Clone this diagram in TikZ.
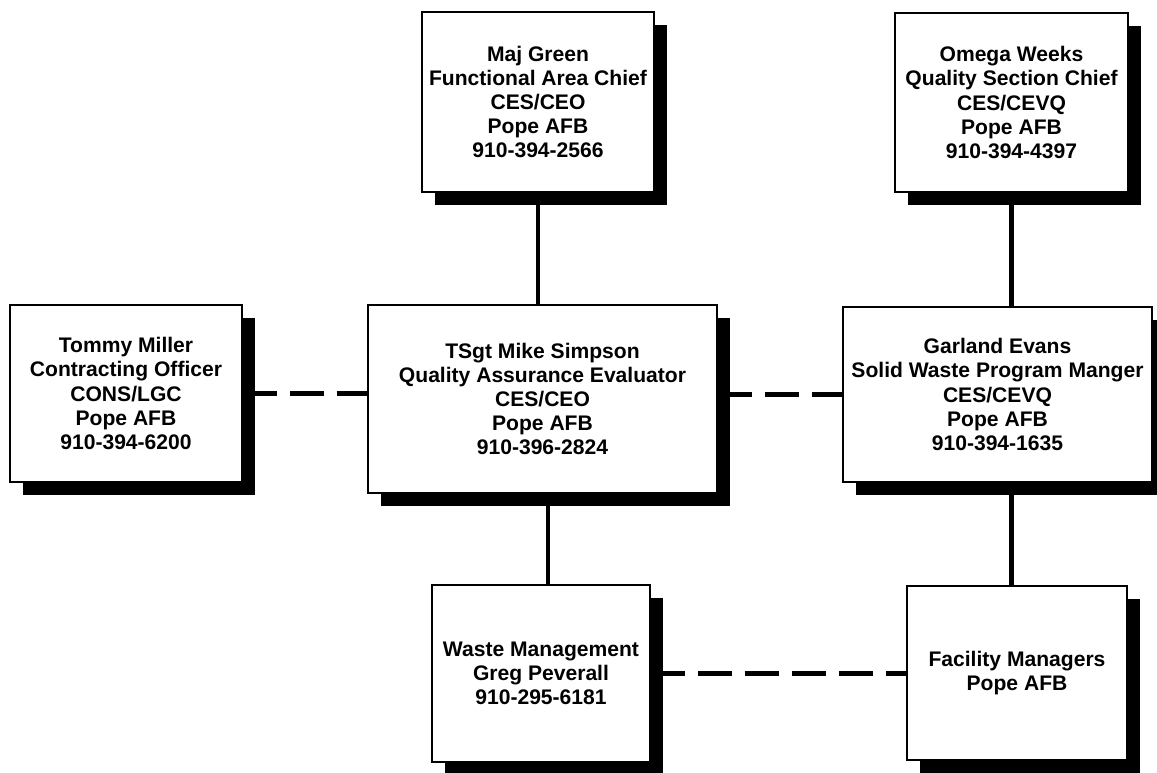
\documentclass[tikz,border=0pt]{standalone}
\usepackage{fontspec}
\setmainfont{Liberation Sans}
\usepackage{tikz}
\usetikzlibrary{shadows}

\begin{document}
\begin{tikzpicture}[x=0.02cm, y=-0.02cm]
			\tikzset{person/.style = {shape=rectangle,draw,fill=white,
					line width=1.1pt, inner sep = 0pt, align=center,
					font=\bfseries\fontsize{12}{13.7}\selectfont,
					drop shadow={shadow xshift=0.26cm, shadow yshift=-0.26cm,
						fill=black, opacity=1}}}
			\tikzset{edge/.style = {line width=2.8pt}}
			\tikzset{edgedash/.style = {line width=2.8pt, dash pattern=on 0.68cm off 0.26cm}}
			
			\useasboundingbox[fill=white] (0,0) rectangle (1157,773);
			
			% vertices
			\node[person, minimum width=4.64cm, minimum height=3.6cm] (green) at (538,102)
			{Maj Green\\Functional Area Chief\\CES/CEO\\Pope AFB\\910-394-2566};
			\node[person, minimum width=4.66cm, minimum height=3.58cm] (omega) at (1011.5,102.5)
			{Omega Weeks\\Quality Section Chief\\CES/CEVQ\\Pope AFB\\910-394-4397};
			\node[person, minimum width=4.64cm, minimum height=3.54cm] (tommy) at (126,393.5)
			{Tommy Miller\\Contracting Officer\\CONS/LGC\\Pope AFB\\910-394-6200};
			\node[person, minimum width=6.98cm, minimum height=3.76cm] (simpson) at (542.5,399)
			{TSgt Mike Simpson\\Quality Assurance Evaluator\\CES/CEO\\Pope AFB\\910-396-2824};
			\node[person, minimum width=6.18cm, minimum height=3.5cm] (evans) at (997.5,394.5)
			{Garland Evans\\Solid Waste Program Manger\\CES/CEVQ\\Pope AFB\\910-394-1635};
			\node[person, minimum width=4.36cm, minimum height=3.54cm] (waste) at (541,673.5)
			{Waste Management\\Greg Peverall\\910-295-6181};
			\node[person, minimum width=4.4cm, minimum height=3.48cm] (facility) at (1017,673)
			{Facility Managers\\Pope AFB};
			
			%edges
			
			\draw[edge] (green.south) to (green.south |- simpson.north);
			\draw[edge] (omega.south) to (omega.south |- evans.north);
			\draw[edge] ([xshift=0.14cm]waste.north) to ([xshift=0.14cm]waste.north |- simpson.south);
			\draw[edge] (facility.north -| omega.south) to (evans.south -| omega.south);
			
			\draw[edgedash] (tommy.east) to (tommy.east -| simpson.west);
			\draw[edgedash] (evans.west -| simpson.east) to (evans.west);
			\draw[edgedash] (waste.east) to (waste.east -| facility.west);
			
			\end{tikzpicture}
\end{document}
